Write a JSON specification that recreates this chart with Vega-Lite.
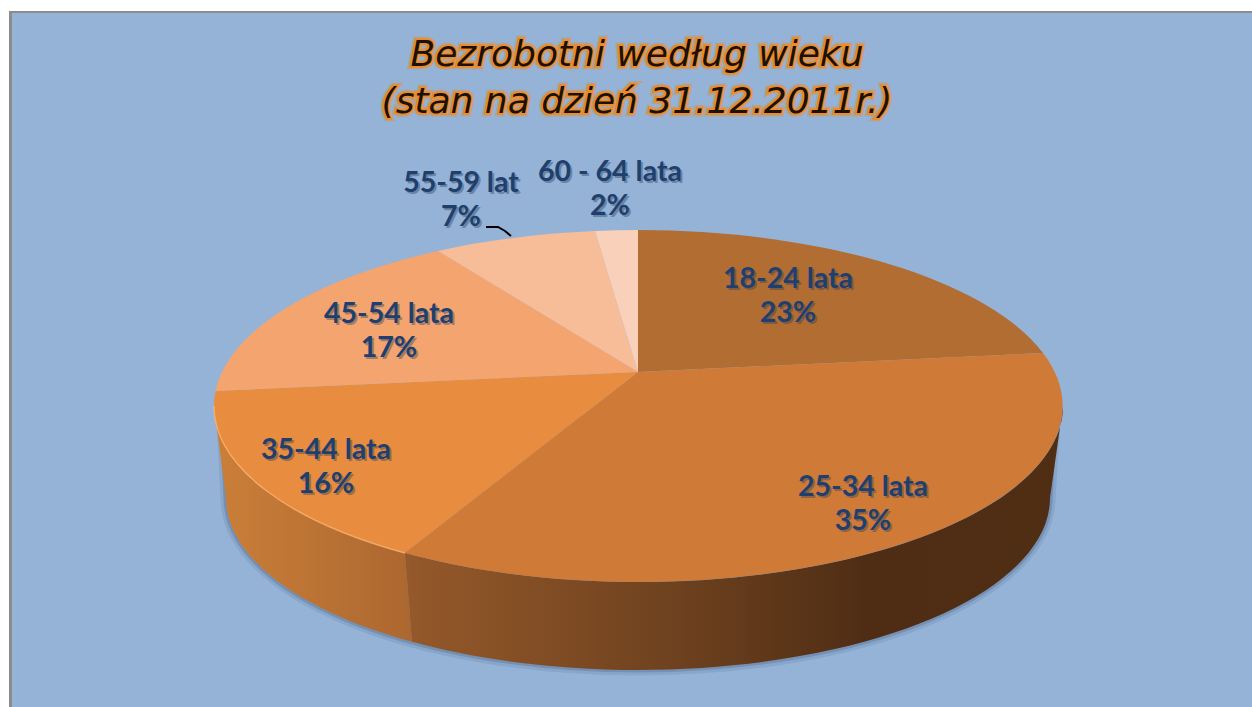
{"$schema":"https://vega.github.io/schema/vega-lite/v6.json","width":1252,"height":707,"autosize":{"type":"fit","contains":"padding"},"padding":0,"background":"#ffffff","view":{"stroke":null},
"datasets":{"wiek":[{"wiek":"18-24 lata","udzial":23,"etykieta":"18-24 lata\n23%"},{"wiek":"25-34 lata","udzial":35,"etykieta":"25-34 lata\n35%"},{"wiek":"35-44 lata","udzial":16,"etykieta":"35-44 lata\n16%"},{"wiek":"45-54 lata","udzial":17,"etykieta":"45-54 lata\n17%"},{"wiek":"55-59 lat","udzial":7,"etykieta":"55-59 lat\n7%"},{"wiek":"60 - 64 lata","udzial":2,"etykieta":"60 - 64 lata\n2%"}],
"tytul":[{"wiersz":1,"tekst":"Bezrobotni według wieku"},{"wiersz":2,"tekst":"(stan na dzień 31.12.2011r.)"}]},
"data":{"name":"wiek"},
"resolve":{"scale":{"x":"independent","y":"independent","color":"independent","shape":"independent"}},
"layer":[
{"transform":[{"filter":"datum.udzial==2"}],"mark":{"type":"point","filled":true,"opacity":1,"size":4,"fill":"#8c8c8c","shape":"M-617,-342.5 H626 V353.5 H-617 Z"}},
{"transform":[{"filter":"datum.udzial==2"}],"mark":{"type":"point","filled":true,"opacity":1,"size":4,"fill":"#95b3d7","shape":"M-614,-340.5 H626 V353.5 H-614 Z"}},
{"transform":[{"filter":"datum.udzial==35"}],"mark":{"type":"point","filled":true,"opacity":0.12,"size":4,"fill":"#2f4a70","stroke":"#2f4a70","strokeWidth":11,"strokeJoin":"round","shape":"M-404,65 L-400,144.5 A412,172 0 0 0 424,144.5 L429,65 Z"}},
{"transform":[{"filter":"datum.udzial==35"}],"mark":{"type":"point","filled":true,"opacity":0.22,"size":4,"fill":"#2f4a70","stroke":"#2f4a70","strokeWidth":5,"strokeJoin":"round","shape":"M-404,65 L-400,144.5 A412,172 0 0 0 424,144.5 L429,65 Z"}},
{"transform":[{"filter":"datum.udzial==16"}],"mark":{"type":"point","filled":true,"opacity":1,"size":4,"fill":{"gradient":"linear","x1":0,"x2":1,"y1":0,"y2":0,"stops":[{"offset":0,"color":"#cb7f38"},{"offset":1,"color":"#ac6730"}]},"shape":"M-412,52.5 A424.5,176 0 0 0 -221,199.5 L-214,288.3 A412,172 0 0 1 -400,144.5 Z"}},
{"transform":[{"filter":"datum.udzial==35"}],"mark":{"type":"point","filled":true,"opacity":1,"size":4,"fill":{"gradient":"linear","x1":0,"x2":1,"y1":0,"y2":0,"stops":[{"offset":0,"color":"#95592a"},{"offset":0.4,"color":"#6f421f"},{"offset":0.7,"color":"#4f2d14"},{"offset":1,"color":"#4f2e14"}]},"shape":"M-221,199.5 A424.5,176 0 0 0 437,52.5 L424,144.5 A412,172 0 0 1 -214,288.3 Z"}},
{"mark":{"type":"point","filled":true,"opacity":1,"size":4},"encoding":{
"shape":{"field":"wiek","type":"nominal","legend":null,"scale":{"domain":["18-24 lata","25-34 lata","35-44 lata","45-54 lata","55-59 lat","60 - 64 lata"],"range":["M12,18.5 L12,-123.5 A424.5,176 0 0 1 417,-0.5 Z","M12,18.5 L417,-0.5 A424.5,176 0 0 1 -221,199.5 Z","M12,18.5 L-221,199.5 A424.5,176 0 0 1 -410.5,37.5 Z","M12,18.5 L-410.5,37.5 A424.5,176 0 0 1 -188,-102.5 Z","M12,18.5 L-188,-102.5 A424.5,176 0 0 1 -31,-122.5 Z","M12,18.5 L-31,-122.5 A424.5,176 0 0 1 12,-123.5 Z"]}},
"color":{"field":"wiek","type":"nominal","legend":null,"scale":{"domain":["18-24 lata","25-34 lata","35-44 lata","45-54 lata","55-59 lat","60 - 64 lata"],"range":["#b26d33","#cf7a37","#e88c3f","#f4a46f","#f7bc98","#f9d1bb"]}}}},
{"transform":[{"filter":"datum.udzial==16"}],"mark":{"type":"point","filled":false,"opacity":0.8,"size":4,"stroke":"#ffb36e","strokeWidth":1.5,"shape":"M-412,52.5 A424.5,176 0 0 0 -221,199.5"}},
{"transform":[{"filter":"datum.udzial==7"}],"mark":{"type":"point","filled":false,"opacity":1,"size":4,"stroke":"#000000","strokeWidth":2,"shape":"M-140,-126.5 L-128,-126.5 L-121,-122.5 L-115,-117.5"}},
{"mark":{"type":"text","font":"Lato","fontWeight":"bold","fontSize":28.5,"lineBreak":"\n","lineHeight":34,"align":"center","baseline":"middle","dx":2,"dy":2,"fill":"#2f3f55","opacity":0.4},"encoding":{
"x":{"field":"udzial","type":"quantitative","axis":null,"scale":{"domain":[2,7,16,17,23,35],"range":[610,461,326,389,788,863],"nice":false,"zero":false}},
"y":{"field":"udzial","type":"quantitative","axis":null,"scale":{"domain":[2,7,16,17,23,35],"range":[172,183,450,314,279,487],"nice":false,"zero":false}},
"text":{"field":"etykieta"}}},
{"mark":{"type":"text","font":"Lato","fontWeight":"bold","fontSize":28.5,"lineBreak":"\n","lineHeight":34,"align":"center","baseline":"middle","fill":"#1f3f6e"},"encoding":{
"x":{"field":"udzial","type":"quantitative","axis":null,"scale":{"domain":[2,7,16,17,23,35],"range":[610,461,326,389,788,863],"nice":false,"zero":false}},
"y":{"field":"udzial","type":"quantitative","axis":null,"scale":{"domain":[2,7,16,17,23,35],"range":[172,183,450,314,279,487],"nice":false,"zero":false}},
"text":{"field":"etykieta"}}},
{"data":{"name":"tytul"},"mark":{"type":"text","font":"DejaVu Sans","fontStyle":"italic","fontSize":36,"align":"center","baseline":"middle","dx":11,"fill":"#c09a70","stroke":"#c09a70","strokeWidth":7,"strokeOpacity":0.6},"encoding":{"y":{"field":"wiersz","type":"quantitative","axis":null,"scale":{"domain":[1,2],"range":[55,102],"nice":false,"zero":false}},"text":{"field":"tekst"}}},
{"data":{"name":"tytul"},"mark":{"type":"text","font":"DejaVu Sans","fontStyle":"italic","fontSize":36,"align":"center","baseline":"middle","dx":11,"fill":"#f08a24","stroke":"#f08a24","strokeWidth":3.5},"encoding":{"y":{"field":"wiersz","type":"quantitative","axis":null,"scale":{"domain":[1,2],"range":[55,102],"nice":false,"zero":false}},"text":{"field":"tekst"}}},
{"data":{"name":"tytul"},"mark":{"type":"text","font":"DejaVu Sans","fontStyle":"italic","fontSize":36,"align":"center","baseline":"middle","dx":11,"fill":"#1a1208"},"encoding":{"y":{"field":"wiersz","type":"quantitative","axis":null,"scale":{"domain":[1,2],"range":[55,102],"nice":false,"zero":false}},"text":{"field":"tekst"}}}
]}
